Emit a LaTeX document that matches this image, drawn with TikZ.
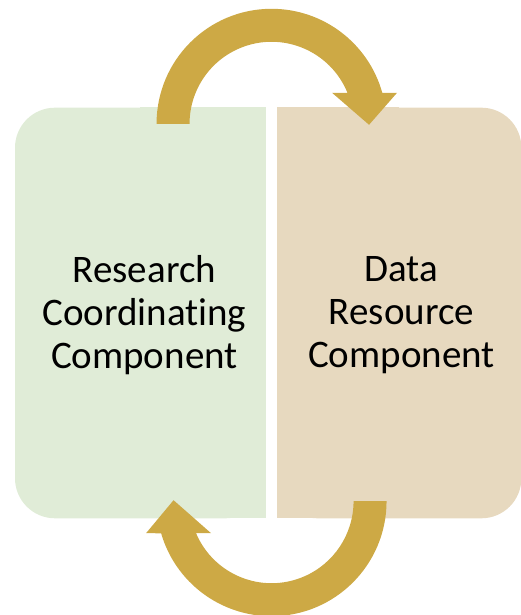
\documentclass[tikz,border=0pt]{standalone}
\usepackage{fontspec}
\setmainfont{Carlito}[Ligatures=NoCommon]
\usetikzlibrary{positioning,calc}
\definecolor{greenbox}{RGB}{224,236,215}
\definecolor{tanbox}{RGB}{231,217,191}
\definecolor{arrowgold}{RGB}{205,169,69}

\begin{document}
\begin{tikzpicture}[x=1pt,y=1pt,
   box/.style={rounded corners=40pt, minimum width=#1, minimum height=410.6pt, inner sep=0pt},
   boxtext/.style={align=center, font=\fontsize{39}{43}\selectfont}]
\useasboundingbox (0,0) rectangle (521,615);
\node[box=250.7pt, fill=greenbox] (rc) at (140.35,302) {};
\node[box=244pt, fill=tanbox, right=11.3pt of rc] (dr) {};
% square off the inner corners
\fill[greenbox] (rc.north) rectangle (rc.south east);
\fill[tanbox] (dr.north west) rectangle (dr.south);
\node[boxtext] (rctext) at ([xshift=4pt,yshift=-2pt]rc.center) {Research\\Coordinating\\Component};
\node[boxtext] (drtext) at ([xshift=2pt,yshift=-2pt]dr.center) {Data\\Resource\\Component};
% centres of the two curved arrows
\coordinate (topc) at ($(rc.north east)!0.5!(dr.north west)+(0,-16.3)$);
\coordinate (botc) at ($(rc.south east)!0.5!(dr.south west)+(0,17.3)$);
\fill[arrowgold] ($(topc)+(180:82pt)$) -- ++(-33pt,0)
   arc[start angle=180, end angle=15.6, radius=115pt]
   -- ($(topc)+(125.5pt,31pt)$) -- ($(topc)+(97.5pt,-1pt)$) -- ($(topc)+(60.5pt,31pt)$)
   -- ($(topc)+(22.2:82pt)$) arc[start angle=22.2, end angle=180, radius=82pt] -- cycle;
\fill[arrowgold] ($(botc)+(0:82pt)$) -- ++(33pt,0)
   arc[start angle=0, end angle=-163.8, radius=115pt]
   -- ($(botc)+(-125.5pt,-32pt)$) -- ($(botc)+(-98pt,1pt)$) -- ($(botc)+(-60.5pt,-32pt)$)
   -- ($(botc)+(-157:82pt)$) arc[start angle=-157, end angle=0, radius=82pt] -- cycle;
\end{tikzpicture}
\end{document}
